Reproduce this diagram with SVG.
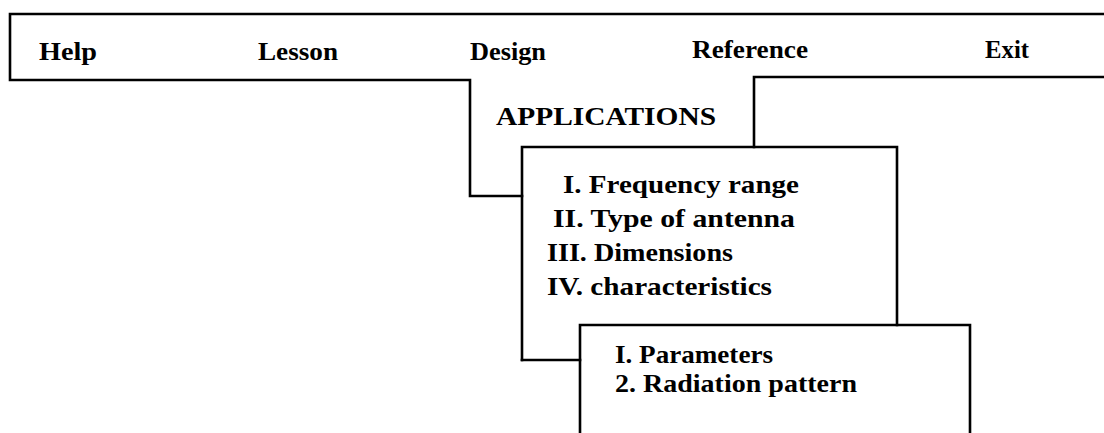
<svg xmlns="http://www.w3.org/2000/svg" width="1104" height="433" viewBox="0 0 1104 433">
<style>
.ln{fill:none;stroke:#000;stroke-width:2.6;stroke-linecap:square;stroke-linejoin:miter}
.t{font-family:"Liberation Serif","Times New Roman",serif;font-size:25px;font-weight:bold;fill:#000}
</style>
<rect width="1104" height="433" fill="#fff"/>
<g id="menubar">
<path class="ln" d="M1104,14 H10 V80 H470 V196 H522"/>
<path class="ln" d="M1104,77 H754 V147"/>
<text class="t" x="39" y="60" textLength="58" lengthAdjust="spacingAndGlyphs">Help</text>
<text class="t" x="258" y="60" textLength="80" lengthAdjust="spacingAndGlyphs">Lesson</text>
<text class="t" x="470" y="60" textLength="76" lengthAdjust="spacingAndGlyphs">Design</text>
<text class="t" x="692" y="58" textLength="116" lengthAdjust="spacingAndGlyphs">Reference</text>
<text class="t" x="985" y="58" textLength="44" lengthAdjust="spacingAndGlyphs">Exit</text>
</g>
<g id="applications">
<text class="t" x="496" y="125" textLength="220" lengthAdjust="spacingAndGlyphs">APPLICATIONS</text>
</g>
<g id="design-menu">
<path class="ln" d="M522,360 V147 H897 V325"/>
<text class="t" x="563" y="193" textLength="236" lengthAdjust="spacingAndGlyphs">I. Frequency range</text>
<text class="t" x="553" y="227" textLength="242" lengthAdjust="spacingAndGlyphs">II. Type of antenna</text>
<text class="t" x="547" y="261" textLength="186" lengthAdjust="spacingAndGlyphs">III. Dimensions</text>
<text class="t" x="547" y="295" textLength="225" lengthAdjust="spacingAndGlyphs">IV. characteristics</text>
</g>
<g id="connectors">
<path class="ln" d="M522,360 H580"/>
</g>
<g id="characteristics-menu">
<path class="ln" d="M580,433 V325 H970 V433"/>
<text class="t" x="615" y="363" textLength="158" lengthAdjust="spacingAndGlyphs">I. Parameters</text>
<text class="t" x="615" y="392" textLength="242" lengthAdjust="spacingAndGlyphs">2. Radiation pattern</text>
</g>
</svg>
